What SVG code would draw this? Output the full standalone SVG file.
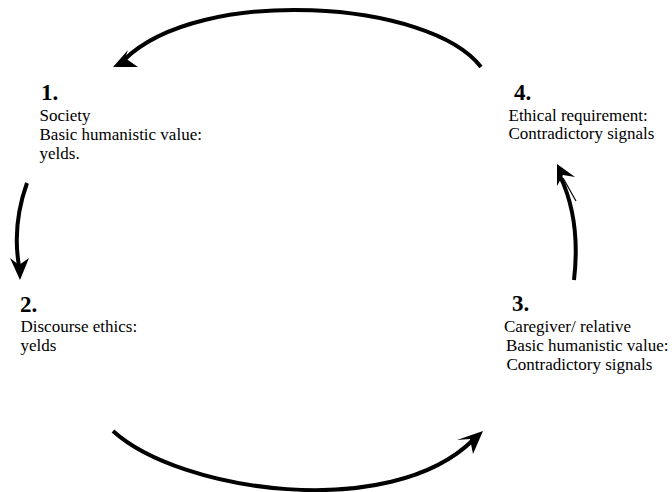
<svg xmlns="http://www.w3.org/2000/svg" width="672" height="492" viewBox="0 0 672 492">
<style>
.num{font-family:"Liberation Serif","Times New Roman",serif;font-weight:bold;font-size:23px;fill:#000}
.t{font-family:"Liberation Serif","Times New Roman",serif;font-size:17px;fill:#000}
.arc{fill:none;stroke:#000;stroke-width:4;stroke-linecap:butt}
.head{fill:#000;stroke:none}
.thin{fill:none;stroke:#000;stroke-width:1.2}
</style>
<rect width="672" height="492" fill="#fff"/>
<g id="connectors">
<path class="arc" d="M481,67 C430,0 200,-15 124,60"/>
<polygon class="head" points="113,67 128,50 125,58 138,67"/>
<path class="arc" d="M27,183 Q12,225 19,266"/>
<polygon class="head" points="20,280 10,258 19,265 29,258"/>
<path class="arc" d="M574,280 Q581,220 560,176"/>
<polygon class="head" points="557,164 575,177 563,175 557,186"/>
<path class="thin" d="M563,178 L576,201"/>
<path class="arc" d="M113,431 C180,492 390,522 473,440"/>
<polygon class="head" points="483,431 457,440 470,439 473,454"/>
</g>
<g id="node1">
<text class="num" x="41" y="100">1.</text>
<text class="t" x="39.5" y="120.5">Society</text>
<text class="t" x="39.5" y="140">Basic humanistic value:</text>
<text class="t" x="39.5" y="158.5">yelds.</text>
</g>
<g id="node2">
<text class="num" x="20" y="311.5">2.</text>
<text class="t" x="20.5" y="332">Discourse ethics:</text>
<text class="t" x="20.5" y="351">yelds</text>
</g>
<g id="node3">
<text class="num" x="512" y="310.5">3.</text>
<text class="t" x="504" y="331.5">Caregiver/ relative</text>
<text class="t" x="506" y="351">Basic humanistic value:</text>
<text class="t" x="506.5" y="369.5">Contradictory signals</text>
</g>
<g id="node4">
<text class="num" x="514" y="100">4.</text>
<text class="t" x="508.5" y="120.5">Ethical requirement:</text>
<text class="t" x="508.5" y="139">Contradictory signals</text>
</g>
</svg>
